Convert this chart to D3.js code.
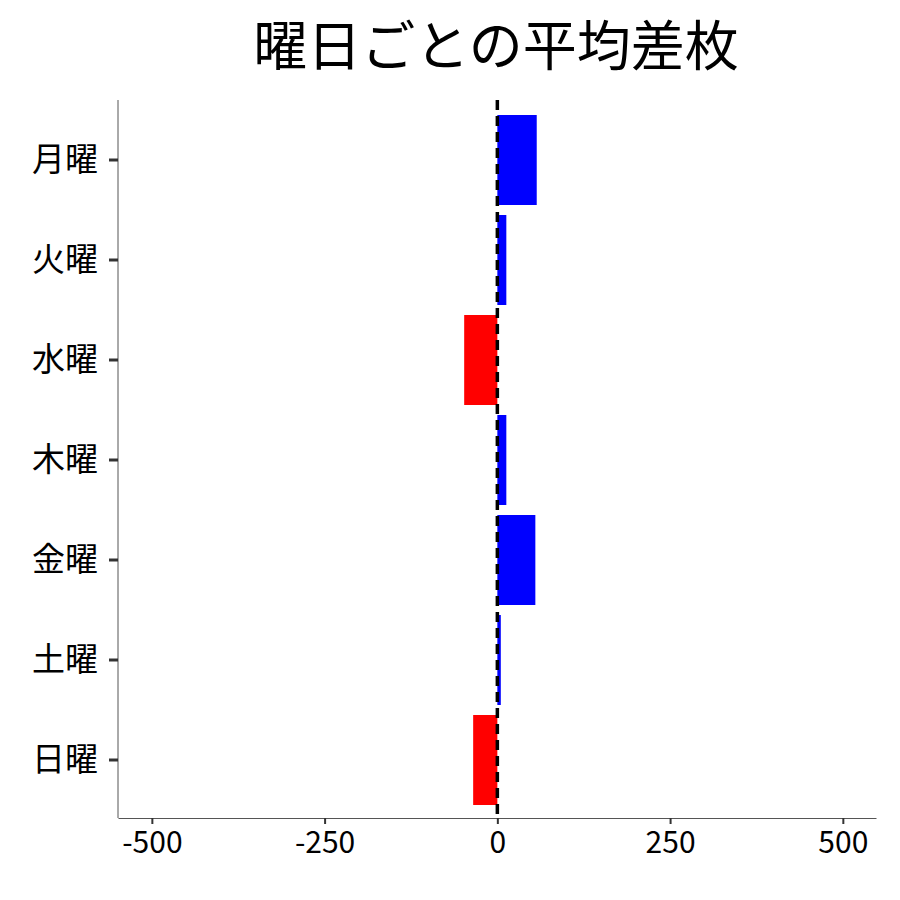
<!DOCTYPE html><html><head><meta charset="utf-8"><script src="https://cdn.jsdelivr.net/npm/d3@7"></script>
<style>body{margin:0;background:#fff}text{font-family:"Noto Sans CJK JP",sans-serif}</style></head><body>
<svg id="c" width="900" height="900"></svg>
<script>
const days=["月曜","火曜","水曜","木曜","金曜","土曜","日曜"];
const values=[57,13,-48,13,55,5,-35];
const xTicks=[-500,-250,0,250,500];
const svg=d3.select("#c");
const x=d3.scaleLinear().domain([-549,548]).range([118,876]);
const y=d3.scaleBand().domain(days).range([110,810]).paddingInner(0.1).paddingOuter(0.05);
svg.append("text").attr("x",496).attr("y",66).attr("text-anchor","middle").attr("font-size",54).text("曜日ごとの平均差枚");
svg.selectAll("rect.b").data(days).join("rect")
 .attr("x",(d,i)=>x(Math.min(0,values[i]))).attr("width",(d,i)=>Math.abs(x(values[i])-x(0)))
 .attr("y",d=>y(d)).attr("height",y.bandwidth()).attr("fill",(d,i)=>values[i]>=0?"#0000ff":"#ff0000");
svg.append("line").attr("x1",x(0)).attr("x2",x(0)).attr("y1",100).attr("y2",818).attr("stroke","#000").attr("stroke-width",3.5).attr("stroke-dasharray","10,6");
const xa=svg.append("g").attr("transform","translate(0,818)").call(d3.axisBottom(x).tickValues(xTicks).tickFormat(d=>String(d)).tickSize(6).tickSizeOuter(0));
xa.select(".domain").attr("stroke","#555");
xa.selectAll(".tick line").attr("stroke","#333").attr("stroke-width",2);
xa.selectAll("text").attr("font-size",30).attr("fill","#000").attr("dy","0.85em");
const ya=svg.append("g").attr("transform","translate(118,0)").call(d3.axisLeft(y).tickSize(9).tickPadding(11).tickSizeOuter(0));
ya.select(".domain").attr("d","M0,100V818").attr("stroke","#555");
ya.selectAll(".tick line").attr("stroke","#333").attr("stroke-width",3);
ya.selectAll("text").attr("font-size",33).attr("fill","#000");
</script></body></html>
